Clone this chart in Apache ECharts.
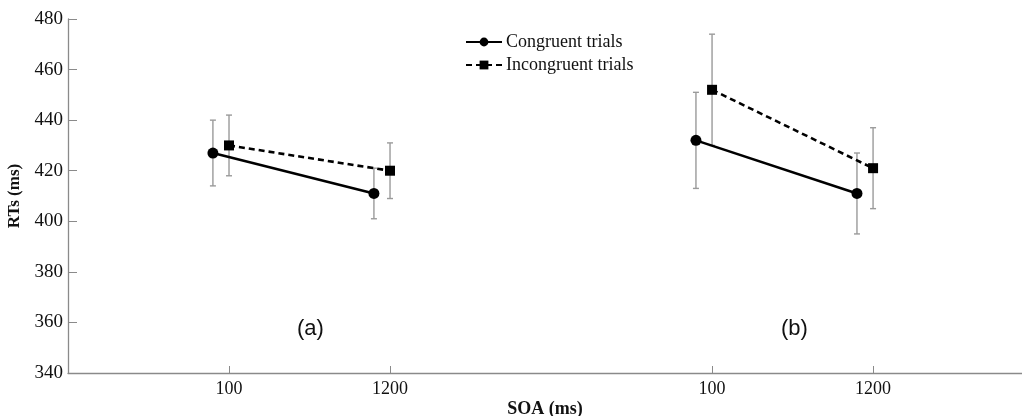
<!DOCTYPE html>
<html>
<head>
<meta charset="utf-8">
<script src="https://cdn.jsdelivr.net/npm/echarts@6/dist/echarts.min.js"></script>
<style>html,body{margin:0;padding:0;background:#fff}#c{width:1022px;height:416px}</style>
</head>
<body>
<div id="c"></div>
<script>
// Positions on a shared x scale: panel (a) around 10/20, panel (b) around 40/50
const tickPositions = [10, 20, 40, 50];
const tickLabels = ['100', '1200', '100', '1200'];
const congruentX = [9, 19, 39, 49];
const incongruentX = [10, 20, 40, 50];
const congruentRT = [427, 411, 432, 411];
const congruentErr = [13, 10, 19, 16];
const incongruentRT = [430, 420, 452, 421];
const incongruentErr = [12, 11, 22, 16];
const panelLabels = ['(a)', '(b)'];

const serif = '"Liberation Serif", "DejaVu Serif", serif';

function pts(xs, ys, idx) { return idx.map(i => [xs[i], ys[i]]); }
function errData(xs, ys, es) { return xs.map((x, i) => [x, ys[i] - es[i], ys[i] + es[i]]); }

function errRender(params, api) {
  const x = api.value(0), lo = api.value(1), hi = api.value(2);
  const pLo = api.coord([x, lo]), pHi = api.coord([x, hi]);
  const cap = 3;
  const st = { stroke: '#9a9a9a', lineWidth: 1.4 };
  return { type: 'group', children: [
    { type: 'line', shape: { x1: pLo[0], y1: pLo[1], x2: pHi[0], y2: pHi[1] }, style: st },
    { type: 'line', shape: { x1: pLo[0]-cap, y1: pLo[1], x2: pLo[0]+cap, y2: pLo[1] }, style: st },
    { type: 'line', shape: { x1: pHi[0]-cap, y1: pHi[1], x2: pHi[0]+cap, y2: pHi[1] }, style: st }
  ]};
}

const solid = { color: '#000', width: 2.6, type: 'solid' };
const dashed = { color: '#000', width: 2.6, type: [6, 4] };

const chart = echarts.init(document.getElementById('c'), null, { renderer: 'canvas' });
chart.setOption({
  backgroundColor: '#fff',
  animation: false,
  grid: { left: 68, right: 0, top: 19, bottom: 43, outerBoundsMode: 'none', containLabel: false },
  legend: {
    orient: 'vertical', left: 460, top: 28, itemGap: 5,
    itemWidth: 36, itemHeight: 11,
    textStyle: { fontFamily: serif, fontSize: 18, color: '#111', padding: [0,0,0,-1] },
    data: ['Congruent trials', 'Incongruent trials']
  },
  xAxis: {
    type: 'value', min: 0, max: 59.25,
    splitLine: { show: false },
    axisLine: { lineStyle: { color: '#8a8a8a', width: 1.3 } },
    axisTick: { inside: true, length: 7, lineStyle: { color: '#8a8a8a' }, customValues: tickPositions },
    axisLabel: {
      customValues: tickPositions,
      formatter: v => { const i = tickPositions.indexOf(v); return i >= 0 ? tickLabels[i] : ''; },
      fontFamily: serif, fontSize: 18, color: '#111', margin: 7
    },
    name: 'SOA (ms)', nameLocation: 'middle', nameGap: 27, nameMoveOverlap: false,
    nameTextStyle: { fontFamily: serif, fontSize: 18, fontWeight: 'bold', color: '#111' }
  },
  yAxis: {
    type: 'value', min: 340, max: 480, interval: 20,
    splitLine: { show: false },
    axisLine: { show: true, lineStyle: { color: '#8a8a8a', width: 1.3 } },
    axisTick: { show: true, inside: true, length: 9, lineStyle: { color: '#8a8a8a' } },
    axisLabel: { fontFamily: serif, fontSize: 19, color: '#111', margin: 5 },
    name: 'RTs (ms)', nameLocation: 'middle', nameGap: 45, nameRotate: 90,
    nameTextStyle: { fontFamily: serif, fontSize: 17, fontWeight: 'bold', color: '#111' }
  },
  graphic: [
    { type: 'text', left: 297, top: 318, style: { text: panelLabels[0], font: '22px "Liberation Sans", Arial, sans-serif', fill: '#111' } },
    { type: 'text', left: 781, top: 318, style: { text: panelLabels[1], font: '22px "Liberation Sans", Arial, sans-serif', fill: '#111' } }
  ],
  series: [
    { type: 'custom', name: 'errC', renderItem: errRender, data: errData(congruentX, congruentRT, congruentErr), z: 1, silent: true, encode: { x: 0, y: [1, 2] } },
    { type: 'custom', name: 'errI', renderItem: errRender, data: errData(incongruentX, incongruentRT, incongruentErr), z: 1, silent: true, encode: { x: 0, y: [1, 2] } },
    { type: 'line', name: 'Congruent trials', data: pts(congruentX, congruentRT, [0,1]), symbol: 'circle', symbolSize: 11, itemStyle: { color: '#000' }, lineStyle: solid, z: 3 },
    { type: 'line', name: 'Congruent trials', data: pts(congruentX, congruentRT, [2,3]), symbol: 'circle', symbolSize: 11, itemStyle: { color: '#000' }, lineStyle: solid, z: 3 },
    { type: 'line', name: 'Incongruent trials', data: pts(incongruentX, incongruentRT, [0,1]), symbol: 'rect', symbolSize: 10, itemStyle: { color: '#000' }, lineStyle: dashed, z: 3 },
    { type: 'line', name: 'Incongruent trials', data: pts(incongruentX, incongruentRT, [2,3]), symbol: 'rect', symbolSize: 10, itemStyle: { color: '#000' }, lineStyle: dashed, z: 3 }
  ]
});
</script>
</body>
</html>
